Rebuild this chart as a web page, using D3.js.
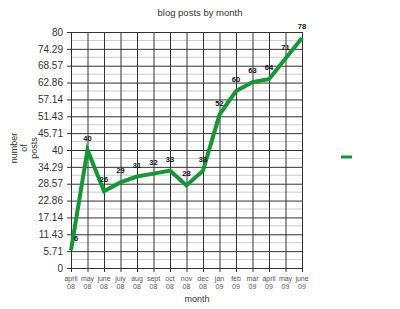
<!DOCTYPE html>
<html>
<head>
<meta charset="utf-8">
<script src="https://cdn.jsdelivr.net/npm/d3@7"></script>
<style>
  body { margin: 0; background: #fff; }
  text { font-family: "Liberation Sans", Arial, sans-serif; }
</style>
</head>
<body>
<div id="chart"></div>
<script>
var months = ["april", "may", "june", "july", "aug", "sept", "oct", "nov", "dec", "jan", "feb", "mar", "april", "may", "june"];
var years = ["08", "08", "08", "08", "08", "08", "08", "08", "08", "09", "09", "09", "09", "09", "09"];
var posts = [6, 40, 26, 29, 31, 32, 33, 28, 33, 52, 60, 63, 64, 71, 78];
var yTicks = [0, 5.71, 11.43, 17.14, 22.86, 28.57, 34.29, 40, 45.71, 51.43, 57.14, 62.86, 68.57, 74.29, 80];

var width = 400, height = 309;
var margin = {top: 32, right: 98, bottom: 41, left: 71};

var svg = d3.select("#chart").append("svg")
    .attr("width", width)
    .attr("height", height);

var x = d3.scalePoint()
    .domain(d3.range(months.length))
    .range([margin.left, width - margin.right]);

var y = d3.scaleLinear()
    .domain([0, 80])
    .range([height - margin.bottom, margin.top]);

// title
svg.append("text")
    .attr("x", 200).attr("y", 16)
    .attr("text-anchor", "middle")
    .attr("font-size", "9.5px")
    .attr("fill", "#333")
    .text("blog posts by month");

// minor horizontal gridlines
var minor = d3.range(yTicks.length - 1).map(function(i) { return (yTicks[i] + yTicks[i + 1]) / 2; });
svg.append("g").selectAll("line")
    .data(minor)
    .enter().append("line")
    .attr("x1", margin.left).attr("x2", width - margin.right)
    .attr("y1", function(d) { return y(d); })
    .attr("y2", function(d) { return y(d); })
    .attr("stroke", "#ccc")
    .attr("stroke-width", 1);

// major horizontal gridlines + y ticks
var yAxis = d3.axisLeft(y)
    .tickValues(yTicks)
    .tickFormat(function(d) { return String(d); })
    .tickSize(-(width - margin.left - margin.right))
    .tickPadding(8);

var gy = svg.append("g")
    .attr("transform", "translate(" + margin.left + ",0)")
    .call(yAxis);
gy.select(".domain").remove();
gy.selectAll(".tick line").attr("stroke", "#333").attr("x1", -4);
gy.selectAll(".tick text")
    .attr("font-size", "10px")
    .attr("fill", "#333")
    .attr("font-family", "Liberation Sans, Arial, sans-serif");

// vertical gridlines + x ticks
var xAxis = d3.axisBottom(x)
    .tickSize(-(height - margin.top - margin.bottom))
    .tickFormat("");

var gx = svg.append("g")
    .attr("transform", "translate(0," + (height - margin.bottom) + ")")
    .call(xAxis);
gx.select(".domain").remove();
gx.selectAll(".tick line").attr("stroke", "#333").attr("y1", 4);

// x tick labels (two lines)
var xl = svg.append("g").selectAll("text")
    .data(months)
    .enter().append("text")
    .attr("x", function(d, i) { return x(i); })
    .attr("y", height - margin.bottom + 13)
    .attr("text-anchor", "middle")
    .attr("font-size", "7px")
    .attr("fill", "#555");
xl.append("tspan").text(function(d) { return d; });
xl.append("tspan")
    .attr("x", function(d, i) { return x(i); })
    .attr("dy", 8)
    .text(function(d, i) { return years[i]; });

// axis titles
svg.append("text")
    .attr("x", 197).attr("y", 302)
    .attr("text-anchor", "middle")
    .attr("font-size", "9px")
    .attr("fill", "#333")
    .text("month");

var yTitle = ["number", "of", "posts"];
svg.append("g").selectAll("text")
    .data(yTitle)
    .enter().append("text")
    .attr("transform", function(d, i) { return "translate(" + (17 + i * 10) + ",148) rotate(-90)"; })
    .attr("text-anchor", "middle")
    .attr("font-size", "9px")
    .attr("fill", "#333")
    .text(function(d) { return d; });

// line
var line = d3.line()
    .x(function(d, i) { return x(i); })
    .y(function(d) { return y(d); });

svg.append("path")
    .datum(posts)
    .attr("d", line)
    .attr("fill", "none")
    .attr("stroke", "#119933")
    .attr("stroke-width", 4)
    .attr("stroke-linejoin", "miter");

// value labels
svg.append("g").selectAll("text")
    .data(posts)
    .enter().append("text")
    .attr("x", function(d, i) { return x(i) + (i === 0 ? 5 : 0); })
    .attr("y", function(d) { return y(d) - 9; })
    .attr("text-anchor", "middle")
    .attr("font-size", "7.5px")
    .attr("font-weight", "bold")
    .attr("fill", "#111")
    .text(function(d) { return d; });

// legend
svg.append("line")
    .attr("x1", 341).attr("x2", 352)
    .attr("y1", 157).attr("y2", 157)
    .attr("stroke", "#119933")
    .attr("stroke-width", 3);
</script>
</body>
</html>
